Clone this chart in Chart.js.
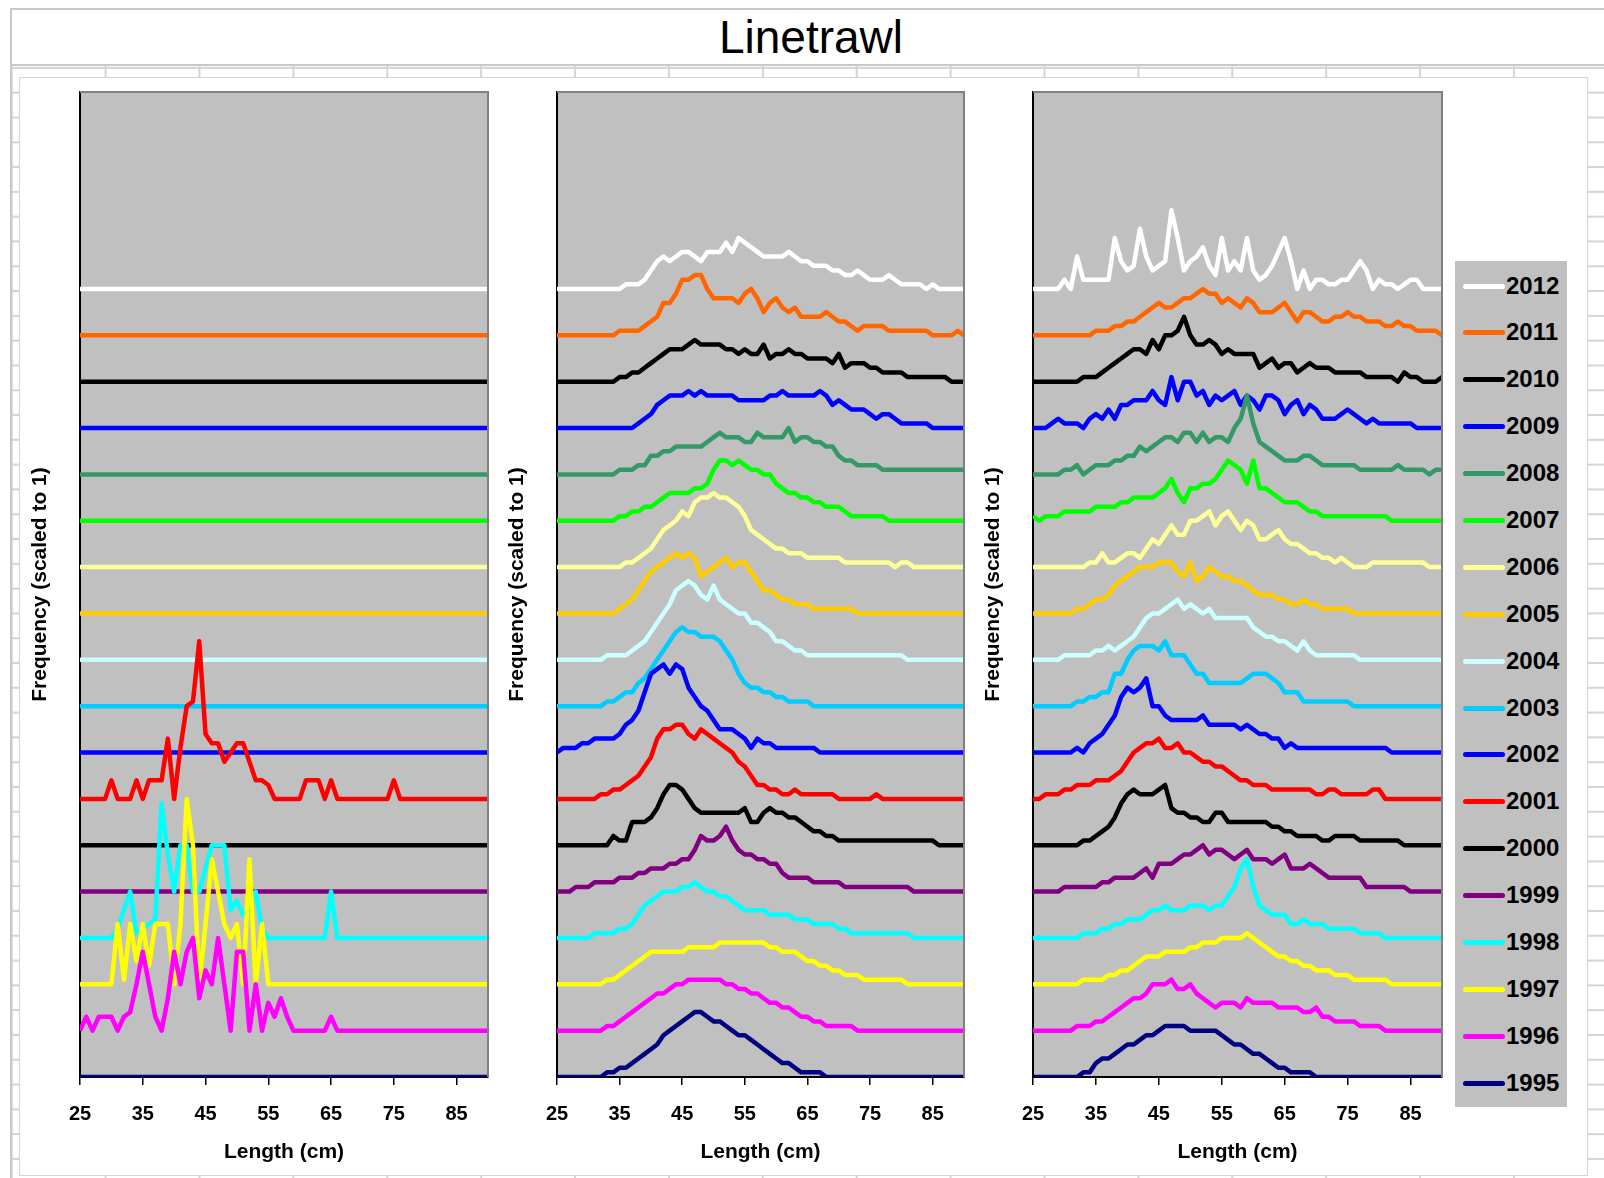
<!DOCTYPE html>
<html>
<head>
<meta charset="utf-8">
<title>Linetrawl</title>
<script src="https://cdn.jsdelivr.net/npm/chart.js@4.4.0/dist/chart.umd.min.js"></script>
<style>
  html, body { margin: 0; padding: 0; width: 1604px; height: 1178px; overflow: hidden; background: #fff; }
  body { font-family: "Liberation Sans", Arial, sans-serif; position: relative; }
  /* worksheet cells behind the chart */
  #sheet {
    position: absolute; left: 10px; top: 8px; width: 1594px; height: 1170px;
    border-left: 2px solid #c8c8c8; box-sizing: border-box;
    background-color: #fff;
    background-image: linear-gradient(to right, #d4d4d4 2px, transparent 2px),
                      linear-gradient(to bottom, #d4d4d4 2px, transparent 2px);
    background-size: 93.9px 100%, 100% 24.8px;
    background-position: 92.6px 0, 0 9.3px;
  }
  #titleBand {
    position: absolute; left: 10px; top: 8px; width: 1594px; height: 58px; box-sizing: border-box;
    background: #fff; border-top: 2px solid #c8c8c8; border-bottom: 2px solid #c8c8c8; border-left: 2px solid #c8c8c8;
  }
  #title {
    position: absolute; left: 0; width: 1622px; top: 8px; height: 58px; line-height: 58px;
    text-align: center; font-size: 46px; color: #000;
  }
  #chartBox {
    position: absolute; left: 19px; top: 77px; width: 1569px; height: 1099px; box-sizing: border-box;
    background: #fff; border: 1px solid #d4d4d4;
  }
  canvas { position: absolute; top: 82px; }
  #legend {
    position: absolute; left: 1455px; top: 261px; width: 112px; height: 846px;
    background: #c0c0c0; box-sizing: border-box; padding-top: 1.5px;
  }
  #legend .item { position: relative; height: 46.9px; }
  #legend .swatch { position: absolute; left: 8px; top: 21px; width: 42px; height: 5px; border-radius: 2.5px; }
  #legend .yr { position: absolute; left: 51px; top: 0; line-height: 46.9px; font-size: 24px; font-weight: bold; color: #000; }
</style>
</head>
<body>
<div id="sheet"></div>
<div id="titleBand"></div>
<div id="title">Linetrawl</div>
<div id="chartBox"></div>
<canvas id="panelLeft" width="478" height="1094" style="left:20px;width:478px;height:1094px"></canvas>
<canvas id="panelMid" width="477" height="1094" style="left:497px;width:477px;height:1094px"></canvas>
<canvas id="panelRight" width="479" height="1094" style="left:973px;width:479px;height:1094px"></canvas>
<div id="legend"></div>
<script>
// length classes (cm) along the x axis
const lengthBins = [25,26,27,28,29,30,31,32,33,34,35,36,37,38,39,40,41,42,43,44,45,46,47,48,49,50,51,52,53,54,55,56,57,58,59,60,61,62,63,64,65,66,67,68,69,70,71,72,73,74,75,76,77,78,79,80,81,82,83,84,85,86,87,88,89,90];
const xTicks = [25, 35, 45, 55, 65, 75, 85];
const years = [1995,1996,1997,1998,1999,2000,2001,2002,2003,2004,2005,2006,2007,2008,2009,2010,2011,2012];
const yearColours = ['#000080','#FF00FF','#FFFF00','#00FFFF','#800080','#000000','#FF0000','#0000FF','#00CCFF','#CCFFFF','#FFCC00','#FFFF99','#00FF00','#339966','#0000FF','#000000','#FF6600','#FFFFFF'];
const rowGap = 10;   // vertical distance between one year's baseline and the next
const yTop = 212.5;

// scaled frequencies, one value per cm class 25..90
const noCatch = [0,0,0,0,0,0,0,0,0,0, 0,0,0,0,0,0,0,0,0,0, 0,0,0,0,0,0,0,0,0,0, 0,0,0,0,0,0,0,0,0,0, 0,0,0,0,0,0,0,0,0,0, 0,0,0,0,0,0,0,0,0,0, 0,0,0,0,0,0];

// left panel
const left_1996 = [0,3,0,3,3,3,0,3,4,10, 17,10,3,0,7,17,10,17,20,7, 13,10,20,10,0,17,17,0,10,0, 6,3,7,3,0,0,0,0,0,0, 3,0,0,0,0,0,0,0,0,0, 0,0,0,0,0,0,0,0,0,0, 0,0,0,0,0,0];
const left_1997 = [0,0,0,0,0,0,13,1,13,5, 13,4,13,13,13,0,13,40,30,0, 13,27,20,13,10,13,0,27,0,13, 0,0,0,0,0,0,0,0,0,0, 0,0,0,0,0,0,0,0,0,0, 0,0,0,0,0,0,0,0,0,0, 0,0,0,0,0,0];
const left_1998 = [0,0,0,0,0,0,2,6,10,1, 2,3,4,29,18,10,20,20,10,10, 15,20,20,20,6,8,5,6,10,2, 0,0,0,0,0,0,0,0,0,0, 10,0,0,0,0,0,0,0,0,0, 0,0,0,0,0,0,0,0,0,0, 0,0,0,0,0,0];
const left_2001 = [0,0,0,0,0,4,0,0,0,4, 0,4,4,4,13,0,11,20,21,34, 14,12,12,8,10,12,12,8,4,4, 3,0,0,0,0,0,4,4,4,0, 4,0,0,0,0,0,0,0,0,0, 4,0,0,0,0,0,0,0,0,0, 0,0,0,0,0,0];

// middle panel
const mid_1995 = [0,0,0,0,0,0,0,0,1,1, 2,2,3,4,5,6,7,9,10,11, 12,13,14,14,13,12,12,11,10,9, 9,8,7,6,5,4,3,3,2,1, 1,1,1,0,0,0,0,0,0,0, 0,0,0,0,0,0,0,0,0,0, 0,0,0,0,0,0];
const mid_1996 = [0,0,0,0,0,0,0,0,1,1, 2,3,4,5,6,7,8,8,9,10, 10,11,11,11,11,11,11,10,10,9, 9,8,8,7,6,6,5,5,4,3, 3,2,2,1,1,1,1,1,0,0, 0,0,0,0,0,0,0,0,0,0, 0,0,0,0,0,0];
const mid_1997 = [0,0,0,0,0,0,0,0,1,1, 2,3,4,5,6,7,7,7,7,7, 7,8,8,8,8,8,9,9,9,9, 9,9,9,9,8,8,7,7,7,6, 5,5,4,4,3,3,2,2,2,1, 1,1,1,1,1,1,0,0,0,0, 0,0,0,0,0,0];
const mid_1998 = [0,0,0,0,0,0,1,1,1,1, 2,2,3,5,7,8,9,10,10,10, 11,11,12,11,10,10,9,9,8,7, 6,6,6,6,5,5,5,5,4,4, 4,3,3,3,3,2,2,1,1,1, 1,1,1,1,1,1,1,0,0,0, 0,0,0,0,0,0];
const mid_1999 = [0,0,0,1,1,1,2,2,2,2, 3,3,3,4,4,5,5,5,6,6, 7,7,9,12,11,11,12,14,11,9, 8,8,7,7,6,6,4,3,3,3, 3,2,2,2,2,2,1,1,1,1, 1,1,1,1,1,1,1,0,0,0, 0,0,0,0,0,0];
const mid_2000 = [0,0,0,0,0,0,0,0,0,2, 1,1,5,5,5,6,8,11,13,13, 12,10,8,7,7,7,7,7,7,7, 8,5,5,7,8,7,7,6,6,5, 4,3,3,2,2,1,1,1,1,1, 1,1,1,1,1,1,1,1,1,1, 1,0,0,0,0,0];
const mid_2001 = [0,0,0,0,0,0,0,1,1,2, 2,3,4,5,7,9,13,15,15,16, 16,14,13,15,14,13,12,11,10,8, 7,5,3,3,2,2,1,1,2,1, 1,1,1,1,1,0,0,0,0,0, 0,1,0,0,0,0,0,0,0,0, 0,0,0,0,0,0];
const mid_2002 = [0,1,1,1,2,2,3,3,3,3, 4,6,7,9,13,17,18,19,17,19, 18,14,12,10,9,7,5,5,5,4, 3,1,3,2,2,1,1,1,1,1, 1,1,0,0,0,0,0,0,0,0, 0,0,0,0,0,0,0,0,0,0, 0,0,0,0,0,0];
const mid_2003 = [0,0,0,0,0,0,0,0,1,1, 2,3,3,5,6,8,10,12,14,16, 17,16,16,15,15,15,14,12,10,7, 5,4,4,3,3,2,2,1,1,1, 1,0,0,0,0,0,0,0,0,0, 0,0,0,0,0,0,0,0,0,0, 0,0,0,0,0,0];
const mid_2004 = [0,0,0,0,0,0,0,0,1,1, 1,1,2,3,4,6,8,10,12,15, 16,17,16,14,13,16,13,12,11,10, 10,8,8,7,6,4,4,3,2,2, 1,1,1,1,1,1,1,1,1,1, 1,1,1,1,1,1,0,0,0,0, 0,0,0,0,0,0];
const mid_2005 = [0,0,0,0,0,0,0,0,0,0, 1,2,3,5,7,9,10,11,12,13, 12,13,12,8,9,10,11,12,10,11, 11,9,7,5,5,4,3,3,2,2, 2,1,1,1,1,1,1,1,0,0, 0,0,0,0,0,0,0,0,0,0, 0,0,0,0,0,0];
const mid_2006 = [0,0,0,0,0,0,0,0,0,0, 0,1,1,2,3,4,6,8,9,10, 12,11,14,15,15,16,15,15,14,13, 11,8,7,6,5,4,4,3,3,3, 2,2,2,2,2,2,1,1,1,1, 1,1,1,1,0,1,1,0,0,0, 0,0,0,0,0,0];
const mid_2007 = [0,0,0,0,0,0,0,0,0,0, 1,1,2,2,3,3,4,5,6,6, 6,6,7,7,8,11,13,13,12,13, 12,11,11,10,10,8,7,6,6,5, 5,4,4,3,3,3,2,1,1,1, 1,1,1,0,0,0,0,0,0,0, 0,0,0,0,0,0];
const mid_2008 = [0,0,0,0,0,0,0,0,0,0, 1,1,1,2,2,4,4,5,5,6, 6,6,6,6,7,8,9,8,8,8, 7,7,9,8,8,8,8,10,7,8, 8,7,7,6,6,4,3,3,2,2, 2,2,1,1,1,1,1,1,1,1, 1,1,1,1,1,1];
const mid_2009 = [0,0,0,0,0,0,0,0,0,0, 0,0,0,1,2,3,5,6,7,7, 7,8,7,8,7,7,7,7,7,6, 6,6,6,6,7,7,8,7,7,7, 7,7,8,7,5,6,5,4,4,4, 3,2,3,3,2,1,1,1,1,1, 0,0,0,0,0,0];
const mid_2010 = [0,0,0,0,0,0,0,0,0,0, 1,1,2,2,3,4,5,6,7,7, 7,8,9,8,8,8,8,7,7,6, 7,6,6,8,5,6,6,7,6,6, 5,5,5,5,4,6,3,4,4,4, 3,3,2,2,2,2,1,1,1,1, 1,1,1,0,0,0];
const mid_2011 = [0,0,0,0,0,0,0,0,0,0, 1,1,1,1,2,3,4,7,7,9, 12,12,13,13,10,8,8,8,8,7, 9,10,8,5,7,8,6,5,6,4, 4,4,4,5,4,3,3,2,1,2, 2,2,2,1,1,1,1,1,1,1, 0,0,0,0,1,0];
const mid_2012 = [0,0,0,0,0,0,0,0,0,0, 0,1,1,1,2,4,6,7,6,7, 8,8,7,6,8,8,8,10,8,11, 10,9,8,7,7,7,7,8,7,6, 6,5,5,5,4,4,3,3,4,3, 2,2,2,3,2,1,1,1,1,0, 1,0,0,0,0,0];

// right panel
const right_1995 = [0,0,0,0,0,0,0,0,1,1, 3,4,4,5,6,7,7,8,9,9, 10,11,11,11,11,10,10,10,10,10, 9,8,7,7,6,5,5,4,3,2, 2,1,1,1,1,0,0,0,0,0, 0,0,0,0,0,0,0,0,0,0, 0,0,0,0,0,0];
const right_1996 = [0,0,0,0,0,0,0,1,1,1, 2,2,3,4,5,6,7,7,8,10, 10,10,11,9,9,10,8,7,6,5, 6,6,6,5,7,6,6,6,6,5, 5,5,5,4,4,5,3,3,2,2, 2,2,1,1,1,1,0,0,0,0, 0,0,0,0,0,0];
const right_1997 = [0,0,0,0,0,0,0,0,1,1, 1,1,2,2,3,3,4,5,6,6, 6,7,7,7,7,8,8,9,9,9, 10,10,10,10,11,10,9,8,7,6, 6,5,5,4,4,3,3,3,2,2, 2,1,1,1,1,1,1,0,0,0, 0,0,0,0,0,0];
const right_1998 = [0,0,0,0,0,0,0,0,1,1, 1,2,2,3,3,4,4,4,5,6, 6,7,6,6,6,7,7,7,6,7, 7,9,11,15,17,11,7,6,5,5, 5,3,3,4,3,3,3,2,2,2, 2,2,1,1,1,1,0,0,0,0, 0,0,0,0,0,0];
const right_1999 = [0,0,0,0,0,1,1,1,1,1, 1,2,2,3,3,3,3,4,5,3, 6,6,6,7,8,8,9,10,8,9, 9,8,7,8,9,7,7,7,6,7, 8,5,5,5,6,5,4,3,3,3, 3,3,3,1,1,1,1,1,1,1, 0,0,0,0,0,0];
const right_2000 = [0,0,0,0,0,0,0,0,1,1, 2,3,4,6,9,11,12,11,11,11, 12,13,8,7,7,6,6,5,5,7, 7,5,5,5,5,5,5,5,4,4, 3,3,2,2,2,2,1,1,2,2, 2,2,1,1,1,1,1,1,1,0, 0,0,0,0,0,0];
const right_2001 = [0,0,1,1,1,2,2,3,3,3, 4,4,4,5,6,8,10,11,12,12, 13,11,11,12,10,10,9,8,8,7, 7,6,5,4,4,3,3,3,2,2, 2,2,2,2,2,1,1,2,2,1, 1,1,1,1,2,2,0,0,0,0, 0,0,0,0,0,0];
const right_2002 = [0,0,0,0,0,0,0,1,0,2, 3,4,6,8,12,14,13,14,16,10, 10,8,7,7,7,7,7,8,6,6, 6,6,6,5,6,5,4,4,3,3, 1,2,1,1,1,1,1,1,1,1, 1,1,1,1,1,1,1,0,0,0, 0,0,0,0,0,0];
const right_2003 = [0,0,0,0,0,0,0,1,1,2, 2,3,3,7,7,10,12,13,13,13, 12,14,11,11,11,9,7,7,5,5, 5,5,5,5,6,7,7,7,6,5, 3,3,3,1,1,1,1,1,1,1, 1,0,0,0,0,0,0,0,0,0, 0,0,0,0,0,0];
const right_2004 = [0,0,0,0,0,1,1,1,1,1, 2,2,3,2,3,4,5,7,9,10, 10,11,12,13,11,12,11,10,11,9, 9,9,9,9,9,7,6,5,5,4, 4,3,2,4,2,1,1,1,1,1, 1,1,0,0,0,0,0,0,0,0, 0,0,0,0,0,0];
const right_2005 = [0,0,0,0,0,0,0,1,1,2, 3,3,4,6,7,8,9,10,10,10, 11,11,11,9,8,11,7,8,10,9, 8,8,7,7,6,5,4,4,4,3, 3,2,2,3,2,2,1,1,1,1, 1,0,0,0,0,0,0,0,0,0, 0,0,0,0,0,0];
const right_2006 = [0,0,0,0,0,0,0,0,0,1, 1,3,1,1,2,3,3,2,4,6, 5,7,9,7,7,10,10,11,12,9, 11,12,10,8,10,9,6,6,7,8, 6,5,5,4,3,3,2,2,1,2, 1,0,0,0,1,1,1,1,1,1, 1,1,1,0,0,0];
const right_2007 = [1,0,1,1,1,2,2,2,2,2, 3,3,3,3,4,4,5,5,5,5, 6,7,9,6,4,7,7,8,8,9, 11,13,12,11,8,13,7,7,6,5, 4,4,4,3,2,2,1,1,1,1, 1,1,1,1,1,1,1,0,0,0, 0,0,0,0,0,0];
const right_2008 = [0,0,0,0,0,1,1,2,0,1, 2,2,2,3,3,4,4,6,5,6, 7,8,8,7,9,9,7,9,7,8, 8,7,10,12,17,11,7,6,5,4, 3,3,3,4,4,3,2,2,2,2, 2,2,1,1,1,1,1,1,2,1, 1,1,1,0,1,1];
const right_2009 = [0,0,0,1,2,1,1,1,0,2, 3,2,4,2,5,5,6,6,6,8, 6,5,11,6,10,10,7,8,5,7, 6,7,8,5,7,6,4,7,7,6, 3,5,6,3,5,4,2,2,2,3, 4,3,2,1,2,1,1,1,1,1, 1,0,0,0,0,0];
const right_2010 = [0,0,0,0,0,0,0,0,1,1, 1,2,3,4,5,6,7,7,6,9, 7,10,10,11,14,10,8,8,9,8, 6,7,6,6,6,6,3,4,5,3, 4,4,2,3,4,3,3,3,2,2, 2,2,2,1,1,1,1,1,0,2, 1,1,0,0,0,1];
const right_2011 = [0,0,0,0,0,0,0,0,0,0, 1,1,1,2,2,3,3,4,5,6, 7,6,6,7,8,8,9,10,9,9, 7,8,7,6,8,7,5,5,5,6, 7,5,3,5,5,4,3,3,4,4, 5,4,4,3,3,3,2,2,3,2, 2,1,1,1,1,0];
const right_2012 = [0,0,0,0,0,2,0,7,2,2, 2,2,2,11,6,4,5,13,7,4, 5,6,17,11,4,6,7,9,5,3, 11,4,6,4,11,4,2,3,5,8, 11,6,0,4,0,2,2,1,1,2, 2,4,6,4,0,2,1,1,0,1, 2,2,0,0,0,0];

// rows of each panel, oldest year first
const leftRows = [noCatch, left_1996, left_1997, left_1998, noCatch, noCatch, left_2001, noCatch, noCatch, noCatch, noCatch, noCatch, noCatch, noCatch, noCatch, noCatch, noCatch, noCatch];
const midRows = [mid_1995, mid_1996, mid_1997, mid_1998, mid_1999, mid_2000, mid_2001, mid_2002, mid_2003, mid_2004, mid_2005, mid_2006, mid_2007, mid_2008, mid_2009, mid_2010, mid_2011, mid_2012];
const rightRows = [right_1995, right_1996, right_1997, right_1998, right_1999, right_2000, right_2001, right_2002, right_2003, right_2004, right_2005, right_2006, right_2007, right_2008, right_2009, right_2010, right_2011, right_2012];

Chart.defaults.font.family = '"Liberation Sans", Arial, sans-serif';
Chart.defaults.color = '#000';

// grey plot area with a thin frame on top and right
const plotFrame = {
    id: 'plotFrame',
    beforeDraw(chart) {
        const { ctx, chartArea: a } = chart;
        ctx.save();
        ctx.fillStyle = '#c0c0c0';
        ctx.fillRect(a.left, a.top, a.right - a.left, a.bottom - a.top);
        ctx.restore();
    },
    afterDatasetsDraw(chart) {
        const { ctx, chartArea: a } = chart;
        ctx.save();
        ctx.strokeStyle = '#808080';
        ctx.lineWidth = 2;
        ctx.beginPath();
        ctx.moveTo(a.left, a.top);
        ctx.lineTo(a.right, a.top);
        ctx.lineTo(a.right, a.bottom);
        ctx.stroke();
        ctx.restore();
    }
};

function buildPanel(canvasId, rows) {
    const datasets = rows.map((vals, i) => ({
        label: String(years[i]),
        data: vals.map((v, k) => ({ x: lengthBins[k], y: v + i * rowGap })),
        borderColor: yearColours[i],
        backgroundColor: yearColours[i],
        borderWidth: 4.5,
        borderJoinStyle: 'round',
        pointRadius: 0,
        tension: 0,
        fill: false
    }));

    return new Chart(document.getElementById(canvasId), {
        type: 'line',
        data: { datasets },
        plugins: [plotFrame],
        options: {
            responsive: false,
            animation: false,
            layout: { padding: { top: 10, right: 10, bottom: 0, left: 0 } },
            plugins: { legend: { display: false }, tooltip: { enabled: false } },
            scales: {
                x: {
                    type: 'linear',
                    min: 25,
                    max: 90,
                    afterBuildTicks: s => { s.ticks = xTicks.map(v => ({ value: v })); },
                    afterFit: s => { s.height = 99; },
                    ticks: { font: { size: 20, weight: 'bold' }, color: '#000', padding: 17, maxRotation: 0, autoSkip: false },
                    grid: { drawOnChartArea: false, drawTicks: true, tickLength: 8, color: '#000', lineWidth: 1.5 },
                    border: { display: true, color: '#000', width: 2 },
                    title: { display: true, text: 'Length (cm)', font: { size: 21, weight: 'bold' }, color: '#000', padding: { top: 0, bottom: 11 } }
                },
                y: {
                    type: 'linear',
                    min: 0,
                    max: yTop,
                    z: 1,
                    afterFit: s => { s.width = 60; },
                    ticks: { display: false },
                    grid: { display: false, drawTicks: false },
                    border: { display: true, color: '#000', width: 2 },
                    title: { display: true, text: 'Frequency (scaled to 1)', font: { size: 21, weight: 'bold' }, color: '#000', padding: { top: 8, bottom: 0 } }
                }
            }
        }
    });
}

const charts = [
    buildPanel('panelLeft', leftRows),
    buildPanel('panelMid', midRows),
    buildPanel('panelRight', rightRows)
];

// legend, newest year on top
const legendBox = document.getElementById('legend');
charts[2].data.datasets.slice().reverse().forEach(ds => {
    const item = document.createElement('div');
    item.className = 'item';
    const swatch = document.createElement('span');
    swatch.className = 'swatch';
    swatch.style.background = ds.borderColor;
    const yr = document.createElement('span');
    yr.className = 'yr';
    yr.textContent = ds.label;
    item.appendChild(swatch);
    item.appendChild(yr);
    legendBox.appendChild(item);
});
</script>
</body>
</html>
